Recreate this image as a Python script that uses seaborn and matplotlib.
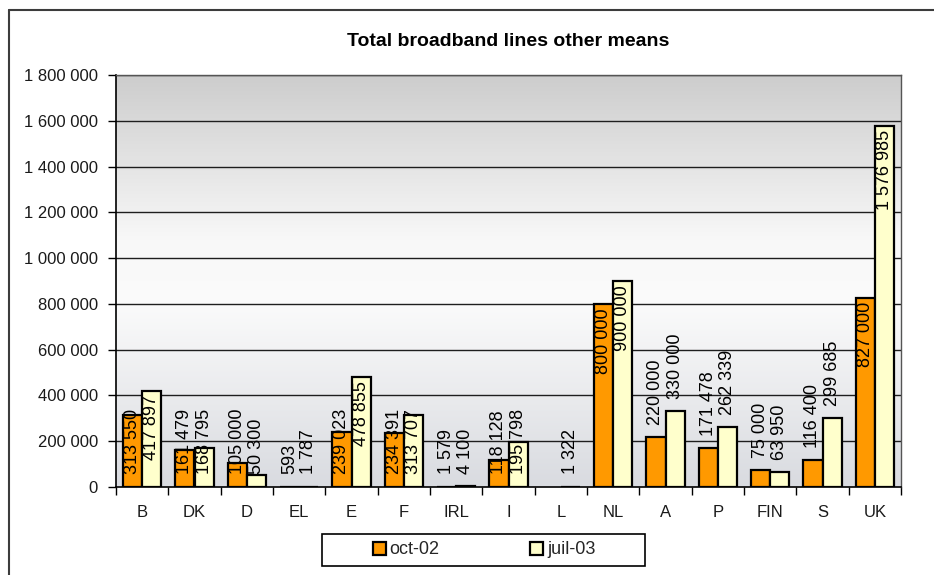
import numpy as np
import pandas as pd
import matplotlib
matplotlib.use("Agg")
import matplotlib.pyplot as plt
from matplotlib.colors import LinearSegmentedColormap
from matplotlib.patches import Patch, Rectangle
from matplotlib.lines import Line2D
import seaborn as sns

# Broadband lines by other means, per member state
countries = ["B", "DK", "D", "EL", "E", "F", "IRL", "I", "L", "NL", "A", "P", "FIN", "S", "UK"]
oct_02 = [313550, 161479, 105000, 593, 239023, 234391, 1579, 118128, np.nan,
          800000, 220000, 171478, 75000, 116400, 827000]
juil_03 = [417897, 168795, 50300, 1787, 478855, 313707, 4100, 195798, 1322,
           900000, 330000, 262339, 63950, 299685, 1576985]
periods = ["oct-02", "juil-03"]
y_ticks = list(range(0, 1800001, 200000))

# value labels sit above the bar for these countries, inside the bar elsewhere
labels_above = {"A", "P", "FIN", "S"}

df = pd.DataFrame({
    "country": countries * 2,
    "period": [periods[0]] * len(countries) + [periods[1]] * len(countries),
    "lines": oct_02 + juil_03,
})

sns.set_theme(style="white")
plt.rcParams["font.family"] = ["Liberation Sans", "DejaVu Sans"]

W, H = 934, 575
fig = plt.figure(figsize=(W / 100, H / 100), dpi=100)
fig.patch.set_facecolor("white")

pos = [116 / W, 1 - 487 / H, (901 - 116) / W, (487 - 75) / H]

# gradient backdrop of the plotting area
bg = fig.add_axes(pos, zorder=0)
cmap = LinearSegmentedColormap.from_list(
    "wall", [(0.0, "#d9dbe0"), (0.45, "#fbfbfb"), (0.6, "#f8f8f8"), (1.0, "#cdcdcd")])
bg.imshow(np.linspace(0, 1, 256)[:, None], cmap=cmap, aspect="auto",
          origin="lower", extent=[0, 1, 0, 1])
bg.set_axis_off()

ax = fig.add_axes(pos, zorder=1)
ax.set_facecolor("none")

palette = {"oct-02": "#ff9900", "juil-03": "#ffffcc"}
sns.barplot(data=df, x="country", y="lines", hue="period", order=countries,
            hue_order=periods, palette=palette, width=0.73, gap=0,
            edgecolor="black", linewidth=1.6, saturation=1, legend=False, ax=ax,
            zorder=3)

ax.set_xlim(-0.5, len(countries) - 0.5)
ax.set_ylim(0, 1800000)
ax.set_xlabel("")
ax.set_ylabel("")

# horizontal gridlines
for v in y_ticks[1:]:
    ax.axhline(v, color="#1e1e1e", lw=1.0, zorder=1)

ax.set_yticks(y_ticks)
ax.set_yticklabels([f"{v:,}".replace(",", " ") for v in y_ticks])
ax.tick_params(axis="y", direction="out", length=6, width=1, color="black",
               pad=7, labelsize=12, labelcolor="#1a1a1a", left=True)
ax.set_xticks(range(len(countries)))
ax.set_xticklabels(countries)
ax.tick_params(axis="x", which="major", length=0, pad=13, labelsize=12,
               labelcolor="#1a1a1a")
ax.set_xticks(np.arange(-0.5, len(countries) + 0.5, 1), minor=True)
ax.tick_params(axis="x", which="minor", direction="out", length=6, width=1,
               color="black", bottom=True)

for side in ["left", "bottom"]:
    ax.spines[side].set_color("black")
    ax.spines[side].set_linewidth(1.2)
for side in ["top", "right"]:
    ax.spines[side].set_color("#555555")
    ax.spines[side].set_linewidth(1.0)

# value labels, written vertically
fig.canvas.draw()
renderer = fig.canvas.get_renderer()
inv = ax.transData.inverted()
for container in ax.containers:
    for bar in container:
        v = bar.get_height()
        if not np.isfinite(v) or v <= 0:
            continue
        xc = bar.get_x() + bar.get_width() / 2
        cat = countries[int(round(xc))]
        txt = ax.text(xc, v, f"{v:,.0f}".replace(",", " "), rotation=90,
                      ha="center", va="bottom", fontsize=13, color="black",
                      zorder=5)
        length = txt.get_window_extent(renderer).height
        top_px = ax.transData.transform((xc, v))[1]
        zero_px = ax.transData.transform((xc, 0))[1]
        if cat in labels_above:
            bottom_px = top_px + 12
        else:
            bottom_px = max(top_px - 4 - length, zero_px + 13)
        txt.set_position((xc, inv.transform((0, bottom_px))[1]))

fig.text(508 / W, 1 - 42 / H, "Total broadband lines other means",
         ha="center", va="center", fontsize=14, fontweight="bold", color="black")

# legend with its own box
fig.patches.append(Rectangle((322 / W, 1 - 566 / H), (645 - 322) / W, (566 - 534) / H,
                             transform=fig.transFigure, facecolor="white",
                             edgecolor="black", lw=1.2, zorder=2))
handles = [Patch(facecolor=palette[p], edgecolor="black", linewidth=1.6, label=p)
           for p in periods]
leg = fig.legend(handles=handles, loc="center", bbox_to_anchor=(484 / W, 1 - 550 / H),
                 ncol=2, frameon=False, fontsize=13, handlelength=0.75,
                 handleheight=0.75, handletextpad=0.2, columnspacing=5.0)
leg.set_zorder(3)

# chart frame
fig.add_artist(Line2D([9 / W, 1.0], [1 - 10 / H, 1 - 10 / H], transform=fig.transFigure,
                      color="#3c3c3c", lw=1.5))
fig.add_artist(Line2D([9 / W, 9 / W], [0, 1 - 10 / H], transform=fig.transFigure,
                      color="#3c3c3c", lw=1.5))

fig.savefig("out.png", dpi=100)
